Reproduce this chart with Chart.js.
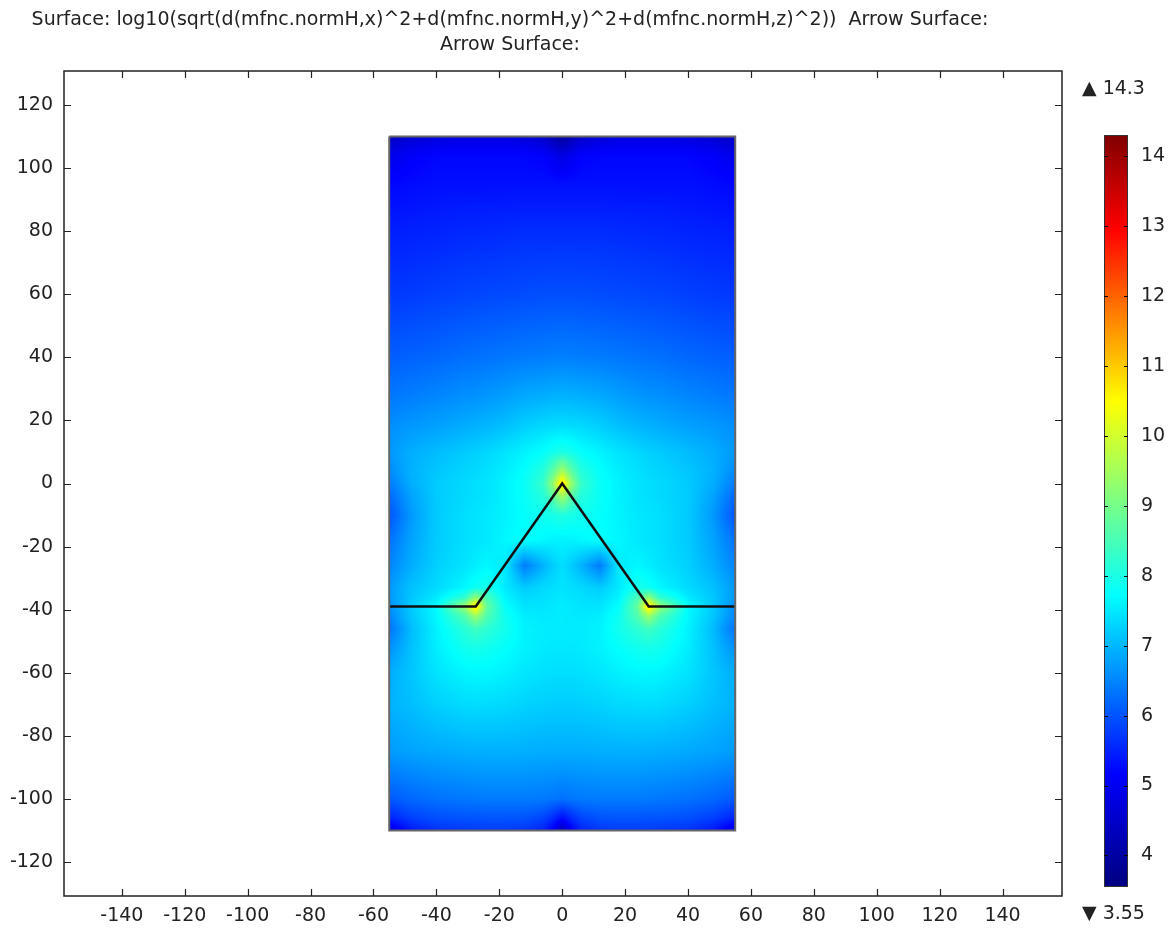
<!DOCTYPE html>
<html>
<head>
<meta charset="utf-8">
<script src="https://cdn.jsdelivr.net/npm/chart.js@4.4.1/dist/chart.umd.min.js"></script>
<style>
  html, body { margin: 0; padding: 0; background: #fff; }
  #wrap { width: 1170px; height: 928px; }
</style>
</head>
<body>
<div id="wrap"><canvas id="surf"></canvas></div>
<script>
// titulo do grafico
var titleLines = [
  "Surface: log10(sqrt(d(mfnc.normH,x)^2+d(mfnc.normH,y)^2+d(mfnc.normH,z)^2))  Arrow Surface:",
  "Arrow Surface:"
];

// eixos
var xTicks = [-140, -120, -100, -80, -60, -40, -20, 0, 20, 40, 60, 80, 100, 120, 140];
var yTicks = [-120, -100, -80, -60, -40, -20, 0, 20, 40, 60, 80, 100, 120];

// faixa da barra de cores
var colorMin = 3.55;
var colorMax = 14.3;
var colorTicks = [4, 5, 6, 7, 8, 9, 10, 11, 12, 13, 14];

// contorno do dominio e a linha do condutor
var domainX = [-55, 55, 55, -55, -55];
var domainY = [110, 110, -110, -110, 110];
var wireX = [-55, -27.5, 0, 27.5, 55];
var wireY = [-39, -39, 0, -39, -39];

// valores da superficie (linhas = gridY, colunas = gridX)
var gridX = [-55, -48, -40, -31, -27.5, -24, -18, -12, -6, -3, 0, 3, 6, 12, 18, 24, 27.5, 31, 40, 48, 55];
var gridY = [110, 104, 95, 80, 60, 40, 28, 18, 10, 4, 0, -4, -10, -18, -26, -33, -36, -39, -42, -46, -52, -60, -70, -85, -100, -106, -110];
var gridZ = [
  [4.4,4.6,4.75,4.8,4.8,4.8,4.8,4.7,4.5,4.2,3.9,4.2,4.5,4.7,4.8,4.8,4.8,4.8,4.75,4.6,4.4],
  [4.9,5.1,5.2,5.2,5.2,5.2,5.2,5.2,5.15,5.0,4.8,5.0,5.15,5.2,5.2,5.2,5.2,5.2,5.2,5.1,4.9],
  [5.2,5.25,5.3,5.3,5.3,5.3,5.3,5.3,5.3,5.3,5.3,5.3,5.3,5.3,5.3,5.3,5.3,5.3,5.3,5.25,5.2],
  [5.45,5.48,5.5,5.55,5.55,5.56,5.58,5.6,5.6,5.6,5.6,5.6,5.6,5.6,5.58,5.56,5.55,5.55,5.5,5.48,5.45],
  [5.72,5.75,5.8,5.85,5.86,5.88,5.9,5.92,5.94,5.95,5.95,5.95,5.94,5.92,5.9,5.88,5.86,5.85,5.8,5.75,5.72],
  [6.1,6.15,6.2,6.28,6.3,6.32,6.36,6.4,6.42,6.44,6.45,6.44,6.42,6.4,6.36,6.32,6.3,6.28,6.2,6.15,6.1],
  [6.35,6.42,6.5,6.6,6.62,6.67,6.75,6.85,6.9,6.93,6.95,6.93,6.9,6.85,6.75,6.67,6.62,6.6,6.5,6.42,6.35],
  [6.6,6.7,6.78,6.9,6.95,7.0,7.1,7.25,7.35,7.38,7.4,7.38,7.35,7.25,7.1,7.0,6.95,6.9,6.78,6.7,6.6],
  [6.7,6.9,7.05,7.2,7.25,7.32,7.45,7.6,7.75,7.9,8.0,7.9,7.75,7.6,7.45,7.32,7.25,7.2,7.05,6.9,6.7],
  [6.55,6.95,7.15,7.3,7.35,7.42,7.55,7.75,8.1,8.7,9.5,8.7,8.1,7.75,7.55,7.42,7.35,7.3,7.15,6.95,6.55],
  [6.4,6.9,7.2,7.35,7.4,7.45,7.6,7.8,8.3,9.3,10.9,9.3,8.3,7.8,7.6,7.45,7.4,7.35,7.2,6.9,6.4],
  [6.2,6.8,7.2,7.35,7.4,7.45,7.6,7.8,8.1,8.7,9.5,8.7,8.1,7.8,7.6,7.45,7.4,7.35,7.2,6.8,6.2],
  [6.0,6.7,7.2,7.4,7.45,7.5,7.6,7.75,7.9,7.95,8.05,7.95,7.9,7.75,7.6,7.5,7.45,7.4,7.2,6.7,6.0],
  [6.3,6.8,7.2,7.4,7.45,7.5,7.65,7.75,7.65,7.6,7.6,7.6,7.65,7.75,7.65,7.5,7.45,7.4,7.2,6.8,6.3],
  [6.5,6.9,7.25,7.45,7.55,7.65,7.5,6.4,6.95,7.2,7.4,7.2,6.95,6.4,7.5,7.65,7.55,7.45,7.25,6.9,6.5],
  [6.7,7.1,7.35,7.65,7.85,7.95,7.5,7.2,7.35,7.4,7.45,7.4,7.35,7.2,7.5,7.95,7.85,7.65,7.35,7.1,6.7],
  [6.7,7.15,7.5,8.2,9.2,8.5,7.6,7.35,7.4,7.45,7.5,7.45,7.4,7.35,7.6,8.5,9.2,8.2,7.5,7.15,6.7],
  [6.6,7.2,7.7,9.4,10.9,8.8,7.75,7.45,7.45,7.5,7.55,7.5,7.45,7.45,7.75,8.8,10.9,9.4,7.7,7.2,6.6],
  [6.5,7.15,7.65,8.6,9.4,8.6,7.85,7.55,7.5,7.52,7.55,7.52,7.5,7.55,7.85,8.6,9.4,8.6,7.65,7.15,6.5],
  [6.3,7.05,7.6,8.15,8.4,8.2,7.9,7.6,7.55,7.55,7.55,7.55,7.55,7.6,7.9,8.2,8.4,8.15,7.6,7.05,6.3],
  [6.6,7.1,7.55,7.9,7.95,7.9,7.75,7.6,7.52,7.5,7.5,7.5,7.52,7.6,7.75,7.9,7.95,7.9,7.55,7.1,6.6],
  [6.9,7.15,7.45,7.62,7.65,7.64,7.58,7.48,7.42,7.4,7.4,7.4,7.42,7.48,7.58,7.64,7.65,7.62,7.45,7.15,6.9],
  [6.95,7.08,7.25,7.36,7.38,7.37,7.34,7.28,7.24,7.22,7.22,7.22,7.24,7.28,7.34,7.37,7.38,7.36,7.25,7.08,6.95],
  [6.72,6.8,6.86,6.91,6.92,6.93,6.93,6.92,6.9,6.9,6.9,6.9,6.9,6.92,6.93,6.93,6.92,6.91,6.86,6.8,6.72],
  [6.05,6.2,6.3,6.36,6.38,6.4,6.4,6.4,6.38,6.35,6.3,6.35,6.38,6.4,6.4,6.4,6.38,6.36,6.3,6.2,6.05],
  [5.5,5.8,5.95,6.0,6.0,6.02,6.02,6.0,5.85,5.6,5.3,5.6,5.85,6.0,6.02,6.02,6.0,6.0,5.95,5.8,5.5],
  [4.8,5.4,5.65,5.72,5.75,5.75,5.75,5.7,5.5,5.1,4.3,5.1,5.5,5.7,5.75,5.75,5.75,5.72,5.65,5.4,4.8]
];

// mapa de cores (tipo "Rainbow" do COMSOL)
var cmap = [
  [3.55, [0, 0, 128]],
  [5.16, [0, 0, 255]],
  [7.72, [0, 255, 255]],
  [10.49, [255, 255, 0]],
  [12.95, [255, 0, 0]],
  [14.3, [128, 0, 0]]
];

var fonte = "19px 'DejaVu Sans'";
var corTexto = "#222";

function corDe(v) {
  if (v <= cmap[0][0]) return cmap[0][1];
  for (var k = 0; k < cmap.length - 1; k++) {
    var a = cmap[k], b = cmap[k + 1];
    if (v <= b[0]) {
      var t = (v - a[0]) / (b[0] - a[0]);
      return [
        a[1][0] + (b[1][0] - a[1][0]) * t,
        a[1][1] + (b[1][1] - a[1][1]) * t,
        a[1][2] + (b[1][2] - a[1][2]) * t
      ];
    }
  }
  return cmap[cmap.length - 1][1];
}

function valorEm(x, y) {
  var i = 0;
  while (i < gridX.length - 2 && x > gridX[i + 1]) i++;
  var j = 0;
  while (j < gridY.length - 2 && y < gridY[j + 1]) j++;
  var tx = Math.min(1, Math.max(0, (x - gridX[i]) / (gridX[i + 1] - gridX[i])));
  var ty = Math.min(1, Math.max(0, (y - gridY[j]) / (gridY[j + 1] - gridY[j])));
  var a = gridZ[j][i], b = gridZ[j][i + 1], c = gridZ[j + 1][i], d = gridZ[j + 1][i + 1];
  return a * (1 - tx) * (1 - ty) + b * tx * (1 - ty) + c * (1 - tx) * ty + d * tx * ty;
}

// desenha a superficie por baixo dos datasets
var superficie = {
  id: 'superficie',
  beforeDatasetsDraw: function(chart) {
    var xs = chart.scales.x, ys = chart.scales.y, ctx = chart.ctx;
    var px0 = Math.round(xs.getPixelForValue(gridX[0]));
    var px1 = Math.round(xs.getPixelForValue(gridX[gridX.length - 1]));
    var py0 = Math.round(ys.getPixelForValue(gridY[0]));
    var py1 = Math.round(ys.getPixelForValue(gridY[gridY.length - 1]));
    var w = px1 - px0, h = py1 - py0;
    var off = document.createElement('canvas');
    off.width = w; off.height = h;
    var octx = off.getContext('2d');
    var img = octx.createImageData(w, h);
    for (var r = 0; r < h; r++) {
      var yv = ys.getValueForPixel(py0 + r + 0.5);
      for (var c = 0; c < w; c++) {
        var xv = xs.getValueForPixel(px0 + c + 0.5);
        var col = corDe(valorEm(xv, yv));
        var p = (r * w + c) * 4;
        img.data[p] = col[0];
        img.data[p + 1] = col[1];
        img.data[p + 2] = col[2];
        img.data[p + 3] = 255;
      }
    }
    octx.putImageData(img, 0, 0);
    ctx.drawImage(off, px0, py0);
  },
  afterDraw: function(chart) {
    var ctx = chart.ctx, a = chart.chartArea;
    var xs = chart.scales.x, ys = chart.scales.y, cb = chart.scales.cb;
    ctx.save();

    // titulo
    ctx.fillStyle = corTexto;
    ctx.font = fonte;
    ctx.textAlign = 'center';
    ctx.textBaseline = 'middle';
    ctx.fillText(titleLines[0], 510, 20);
    ctx.fillText(titleLines[1], 510, 45);

    // moldura e ticks para dentro nos quatro lados
    ctx.strokeStyle = '#222';
    ctx.lineWidth = 1.5;
    ctx.strokeRect(a.left, a.top, a.right - a.left, a.bottom - a.top);
    ctx.lineWidth = 1.2;
    ctx.beginPath();
    xTicks.forEach(function(v) {
      var px = Math.round(xs.getPixelForValue(v)) + 0.5;
      ctx.moveTo(px, a.bottom); ctx.lineTo(px, a.bottom - 7);
      ctx.moveTo(px, a.top); ctx.lineTo(px, a.top + 7);
    });
    yTicks.forEach(function(v) {
      var py = Math.round(ys.getPixelForValue(v)) + 0.5;
      ctx.moveTo(a.left, py); ctx.lineTo(a.left + 7, py);
      ctx.moveTo(a.right, py); ctx.lineTo(a.right - 7, py);
    });
    ctx.stroke();

    // barra de cores
    var bx = cb.left + 42, bw = 24;
    var bTop = Math.round(cb.getPixelForValue(colorMax));
    var bBot = Math.round(cb.getPixelForValue(colorMin));
    for (var py = bTop; py < bBot; py++) {
      var col = corDe(cb.getValueForPixel(py + 0.5));
      ctx.fillStyle = 'rgb(' + Math.round(col[0]) + ',' + Math.round(col[1]) + ',' + Math.round(col[2]) + ')';
      ctx.fillRect(bx, py, bw, 1);
    }
    ctx.strokeStyle = '#333';
    ctx.lineWidth = 1;
    ctx.strokeRect(bx + 0.5, bTop + 0.5, bw - 1, bBot - bTop - 1);
    ctx.strokeStyle = '#000';
    ctx.beginPath();
    colorTicks.forEach(function(v) {
      var py = Math.round(cb.getPixelForValue(v)) + 0.5;
      ctx.moveTo(bx, py); ctx.lineTo(bx + 4, py);
      ctx.moveTo(bx + bw, py); ctx.lineTo(bx + bw - 4, py);
    });
    ctx.stroke();

    // max e min da barra
    ctx.fillStyle = corTexto;
    ctx.font = fonte;
    ctx.textAlign = 'left';
    ctx.textBaseline = 'middle';
    ctx.fillText('\u25B2 ' + colorMax, 1082, 89);
    ctx.fillText('\u25BC ' + colorMin, 1082, 914);
    ctx.restore();
  }
};

function pontos(xx, yy) {
  return xx.map(function(v, k) { return { x: v, y: yy[k] }; });
}

function semPadding(s) {
  s.paddingTop = 0;
  s.paddingBottom = 0;
}

var ctx = document.getElementById('surf').getContext('2d');
var grafico = new Chart(ctx, {
  type: 'scatter',
  data: {
    datasets: [{
      data: pontos(domainX, domainY),
      showLine: true,
      borderColor: '#666',
      borderWidth: 2,
      pointRadius: 0,
      tension: 0
    }, {
      data: pontos(wireX, wireY),
      showLine: true,
      borderColor: '#111',
      borderWidth: 2.5,
      pointRadius: 0,
      tension: 0
    }]
  },
  options: {
    responsive: true,
    maintainAspectRatio: false,
    animation: false,
    layout: { padding: { top: 71, left: 0, right: 0, bottom: 0 } },
    plugins: {
      legend: { display: false },
      tooltip: { enabled: false },
      title: { display: false }
    },
    scales: {
      x: {
        type: 'linear',
        position: 'bottom',
        min: -158.4,
        max: 158.9,
        grid: { display: false, drawTicks: false },
        border: { display: false },
        afterBuildTicks: function(s) { s.ticks = xTicks.map(function(v) { return { value: v }; }); },
        afterFit: function(s) { s.height = 32; },
        ticks: { font: { family: 'DejaVu Sans', size: 19 }, color: corTexto, padding: 9, maxRotation: 0, autoSkip: false }
      },
      y: {
        type: 'linear',
        position: 'left',
        min: -130.8,
        max: 130.8,
        grid: { display: false, drawTicks: false },
        border: { display: false },
        afterBuildTicks: function(s) { s.ticks = yTicks.map(function(v) { return { value: v }; }); },
        afterFit: function(s) { s.width = 64; semPadding(s); },
        ticks: { font: { family: 'DejaVu Sans', size: 19 }, color: corTexto, padding: 11, autoSkip: false }
      },
      cb: {
        type: 'linear',
        position: 'right',
        // limites escolhidos para a barra ficar entre 3.55 e 14.3
        min: 3.421,
        max: 15.215,
        grid: { display: false, drawTicks: false },
        border: { display: false },
        afterBuildTicks: function(s) { s.ticks = colorTicks.map(function(v) { return { value: v }; }); },
        afterFit: function(s) { s.width = 108; semPadding(s); },
        ticks: { font: { family: 'DejaVu Sans', size: 19 }, color: corTexto, padding: 79, autoSkip: false }
      }
    }
  },
  plugins: [superficie]
});
</script>
</body>
</html>
